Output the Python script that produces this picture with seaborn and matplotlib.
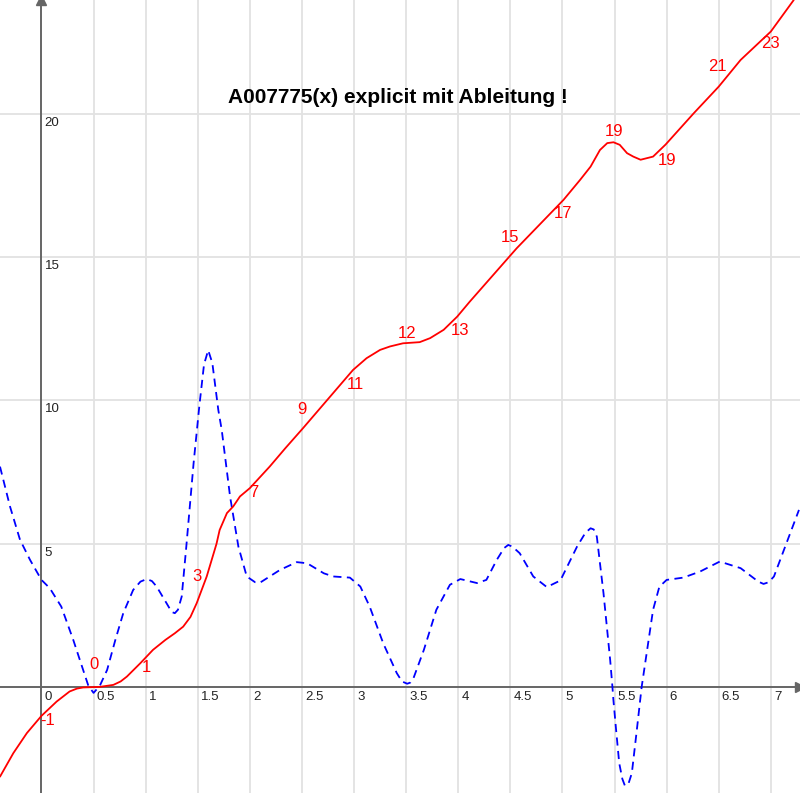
import pandas as pd
import seaborn as sns
import matplotlib.pyplot as plt
from matplotlib.ticker import MultipleLocator

# red curve: A007775(x) explicit
red_x = [-0.398, -0.27, -0.14, 0.0, 0.146, 0.27, 0.34, 0.4, 0.48, 0.56, 0.69, 0.76, 0.82, 0.95,
         1.07, 1.19, 1.28, 1.36, 1.43, 1.49, 1.586, 1.68, 1.71, 1.78, 1.84, 1.905, 2.0, 2.19,
         2.34, 2.51, 2.99, 3.12, 3.25, 3.345, 3.47, 3.63, 3.73, 3.86, 3.99, 4.11, 4.56, 5.01,
         5.17, 5.27, 5.36, 5.43, 5.49, 5.55, 5.62, 5.68, 5.75, 5.87, 5.99, 6.26, 6.5, 6.71,
         7.0, 7.22]
red_y = [-3.12, -2.3, -1.6, -1.0, -0.5, -0.15, -0.05, -0.01, 0.0, 0.01, 0.08, 0.2, 0.37, 0.84,
         1.3, 1.65, 1.88, 2.11, 2.45, 2.93, 3.86, 5.0, 5.48, 6.07, 6.3, 6.65, 6.94, 7.69,
         8.33, 9.03, 11.06, 11.47, 11.76, 11.88, 11.99, 12.03, 12.17, 12.46, 12.92, 13.44, 15.3, 16.99,
         17.69, 18.15, 18.73, 18.97, 19.0, 18.91, 18.62, 18.5, 18.39, 18.5, 18.92, 20.01, 20.94, 21.87,
         22.86, 23.96]

# blue dashed curve: derivative
blue_x = [-0.398, -0.302, -0.206, -0.11, 0.0, 0.08, 0.19, 0.305, 0.4, 0.45, 0.5, 0.56, 0.63,
          0.71, 0.785, 0.88, 0.95, 1.01, 1.06, 1.105, 1.2, 1.25, 1.28, 1.31, 1.346, 1.39, 1.46,
          1.515, 1.56, 1.6, 1.64, 1.697, 1.73, 1.81, 1.89, 1.97, 2.05, 2.1, 2.29, 2.45, 2.55,
          2.71, 2.8, 2.96, 3.06, 3.15, 3.28, 3.41, 3.46, 3.51, 3.54, 3.57, 3.67, 3.79, 3.92,
          4.02, 4.18, 4.27, 4.37, 4.44, 4.48, 4.52, 4.59, 4.72, 4.85, 4.98, 5.14, 5.22, 5.27,
          5.3, 5.33, 5.394, 5.458, 5.48, 5.489, 5.515, 5.545, 5.575, 5.6, 5.635, 5.666, 5.714,
          5.76, 5.87, 5.93, 6.0, 6.16, 6.32, 6.51, 6.71, 6.88, 6.93, 6.98, 7.03, 7.15, 7.27]
blue_y = [7.69, 6.3, 5.14, 4.44, 3.74, 3.45, 2.81, 1.65, 0.6, 0.05, -0.2, 0.05, 0.6,
          1.66, 2.58, 3.39, 3.68, 3.77, 3.7, 3.51, 2.93, 2.62, 2.58, 2.7, 3.16, 4.9, 7.81,
          9.8, 11.25, 11.75, 11.3, 9.67, 8.97, 6.65, 4.9, 3.86, 3.66, 3.65, 4.09, 4.36, 4.32,
          3.97, 3.86, 3.82, 3.51, 2.81, 1.53, 0.49, 0.2, 0.12, 0.16, 0.31, 1.3, 2.7, 3.57,
          3.77, 3.63, 3.74, 4.44, 4.85, 4.96, 4.9, 4.67, 3.86, 3.49, 3.72, 4.9, 5.38, 5.54,
          5.5, 5.25, 3.28, 0.95, 0.0, -0.44, -1.49, -2.65, -3.2, -3.44, -3.35, -3.0, -1.49,
          0.0, 2.7, 3.5, 3.74, 3.82, 4.03, 4.38, 4.15, 3.68, 3.6, 3.66, 3.86, 5.02, 6.18]

# value labels along the red curve
lab_x = [0.06, 0.5, 1.01, 1.49, 2.04, 2.5, 3.01, 3.51, 4.02, 4.5, 5.01, 5.5, 6.0, 6.49, 7.0]
lab_y = [-1.15, 0.78, 0.68, 3.85, 6.78, 9.67, 10.54, 12.34, 12.42, 15.67, 16.5, 19.36, 18.38, 21.64, 22.45]
lab_text = ['-1', '0', '1', '3', '7', '9', '11', '12', '13', '15', '17', '19', '19', '21', '23']

xtick_pos = [0, 0.5, 1, 1.5, 2, 2.5, 3, 3.5, 4, 4.5, 5, 5.5, 6, 6.5, 7]
xtick_lab = ['0', '0.5', '1', '1.5', '2', '2.5', '3', '3.5', '4', '4.5', '5', '5.5', '6', '6.5', '7']
ytick_pos = [5, 10, 15, 20]
ytick_lab = ['5', '10', '15', '20']

sns.set_style("white")
plt.rcParams['font.family'] = ['Liberation Sans', 'DejaVu Sans']

fig = plt.figure(figsize=(8, 7.93), dpi=100)
ax = fig.add_axes([0, 0, 1, 1])

red = pd.DataFrame({'x': red_x, 'y': red_y})
blue = pd.DataFrame({'x': blue_x, 'y': blue_y})
sns.lineplot(data=blue, x='x', y='y', ax=ax, sort=False, estimator=None, color='#0000ff',
             lw=1.3, zorder=3)
ax.lines[-1].set_dashes((4.5, 3))
ax.lines[-1].set_solid_joinstyle('round')
sns.lineplot(data=red, x='x', y='y', ax=ax, sort=False, estimator=None, color='#ff0000',
             lw=1.3, zorder=4)
ax.lines[-1].set_solid_joinstyle('round')

ax.set_xlim(-0.398, 7.28)
ax.set_ylim(-3.69, 23.96)

# axes through the origin
for s in ['top', 'right']:
    ax.spines[s].set_visible(False)
ax.spines['left'].set_position(('data', 0))
ax.spines['bottom'].set_position(('data', 0))
for s in ['left', 'bottom']:
    ax.spines[s].set_color('#666666')
    ax.spines[s].set_linewidth(1.4)
ax.plot([7.28], [0], marker='>', color='#666666', ms=7, clip_on=False, zorder=5)
ax.plot([0], [23.96], marker='^', color='#666666', ms=7, clip_on=False, zorder=5)

ax.xaxis.set_major_locator(MultipleLocator(0.5))
ax.xaxis.set_minor_locator(MultipleLocator(0.1))
ax.yaxis.set_major_locator(MultipleLocator(5))
ax.yaxis.set_minor_locator(MultipleLocator(1))
ax.tick_params(which='both', direction='inout', length=6, width=1, color='#bbbbbb',
               labelbottom=False, labelleft=False)
ax.grid(True, which='major', color='#e2e2e2', lw=1.3, zorder=0)
ax.set_xlabel('')
ax.set_ylabel('')

for p, t in zip(xtick_pos, xtick_lab):
    ax.annotate(t, (p, 0), xytext=(3, -10), textcoords='offset pixels', ha='left', va='center',
                fontsize=9.5, color='#222222')
for p, t in zip(ytick_pos, ytick_lab):
    ax.annotate(t, (0, p), xytext=(3, -9), textcoords='offset pixels', ha='left', va='center',
                fontsize=9.5, color='#222222')

for lx, ly, t in zip(lab_x, lab_y, lab_text):
    ax.text(lx, ly, t, ha='center', va='center', fontsize=12, color='#ff0000', zorder=6)

ax.text(3.42, 20.55, 'A007775(x) explicit mit Ableitung !', ha='center', va='center',
        fontsize=15, fontweight='bold', color='black')

plt.savefig('out.png', dpi=100)
